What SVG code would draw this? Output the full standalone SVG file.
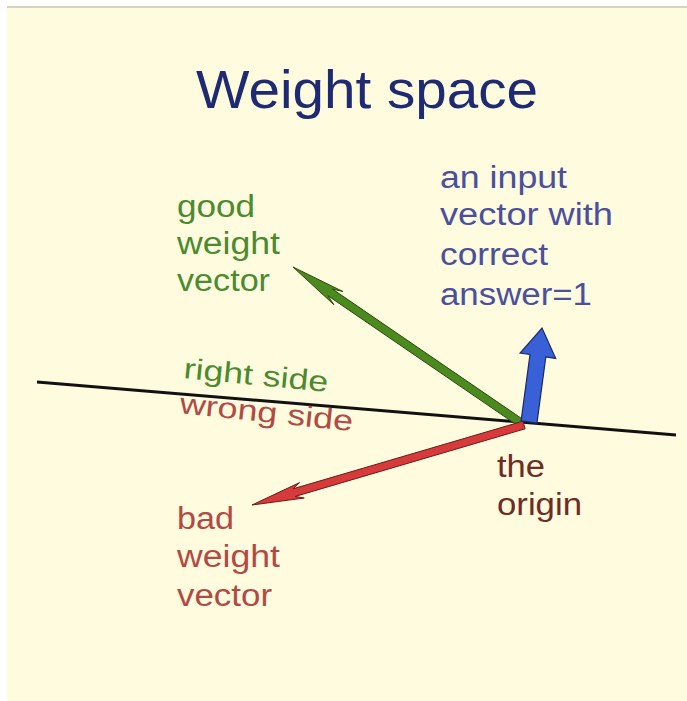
<svg xmlns="http://www.w3.org/2000/svg" width="687" height="701" viewBox="0 0 687 701">
<style>
text{font-family:"Liberation Sans",Arial,sans-serif;}
.title{font-size:53px;fill:#1e2a72;}
.green{font-size:31px;fill:#4c8a2e;}
.blue{font-size:31px;fill:#4a4f9e;}
.red{font-size:31px;fill:#b24a44;}
.brown{font-size:31px;fill:#6e2c24;}
.side{font-size:29px;}
</style>
<rect x="0" y="0" width="687" height="701" fill="#ffffff"/>
<rect x="7" y="8" width="680" height="693" fill="#fefbdf"/>
<rect x="7" y="6" width="680" height="2" fill="#d6d2bc"/>
<g id="connectors">
<line x1="37" y1="382" x2="676" y2="435" stroke="#111" stroke-width="3"/>
<polygon id="good-arrow" points="523.3,419.7 332.5,289.1 342.9,291.5 293,267 333.9,304.7 327.9,295.7 518.7,426.3" fill="#4a8a1e" stroke="#2a4a10" stroke-width="1"/>
<polygon id="bad-arrow" points="525.1,428.8 295.3,496.4 304.2,498.0 252,505 299.6,482.6 293.1,488.8 522.9,421.2" fill="#d63a3a" stroke="#6a1c18" stroke-width="1"/>
<polygon id="input-arrow" points="521.1,420.8 530.0,354.5 520.1,353.0 542,328 555.7,358.4 545.8,356.9 536.9,423.2" fill="#3a60d8" stroke="#1a2a6a" stroke-width="1.2"/>
</g>
<g id="title"><text class="title" x="196" y="108" textLength="342" lengthAdjust="spacingAndGlyphs">Weight space</text></g>
<g id="good-label">
<text class="green" x="177" y="217" textLength="78" lengthAdjust="spacingAndGlyphs">good</text>
<text class="green" x="177" y="254" textLength="103" lengthAdjust="spacingAndGlyphs">weight</text>
<text class="green" x="177" y="291" textLength="93" lengthAdjust="spacingAndGlyphs">vector</text>
</g>
<g id="input-label">
<text class="blue" x="440" y="188" textLength="127" lengthAdjust="spacingAndGlyphs">an input</text>
<text class="blue" x="440" y="225" textLength="173" lengthAdjust="spacingAndGlyphs">vector with</text>
<text class="blue" x="440" y="265" textLength="108" lengthAdjust="spacingAndGlyphs">correct</text>
<text class="blue" x="440" y="305" textLength="152" lengthAdjust="spacingAndGlyphs">answer=1</text>
</g>
<g id="right-side"><text class="green side" x="183" y="378" transform="rotate(5.5 183 378)" textLength="145" lengthAdjust="spacingAndGlyphs">right side</text></g>
<g id="wrong-side"><text class="red side" x="179" y="413" transform="rotate(6 179 413)" textLength="174" lengthAdjust="spacingAndGlyphs" fill="#c0504a">wrong side</text></g>
<g id="origin-label">
<text class="brown" x="497" y="477" textLength="48" lengthAdjust="spacingAndGlyphs">the</text>
<text class="brown" x="497" y="515" textLength="85" lengthAdjust="spacingAndGlyphs">origin</text>
</g>
<g id="bad-label">
<text class="red" x="177" y="529" textLength="57" lengthAdjust="spacingAndGlyphs">bad</text>
<text class="red" x="177" y="567" textLength="103" lengthAdjust="spacingAndGlyphs">weight</text>
<text class="red" x="177" y="606" textLength="95" lengthAdjust="spacingAndGlyphs">vector</text>
</g>
</svg>
